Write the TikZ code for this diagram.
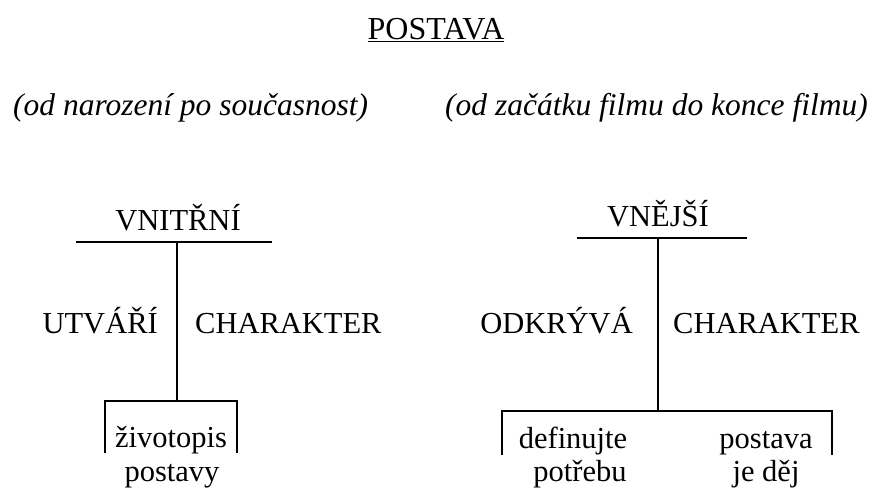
\documentclass[tikz,border=0pt]{standalone}
\usepackage{fontspec}
\setmainfont{Liberation Serif}
\usetikzlibrary{positioning}
\tikzstyle{word} = [inner sep=0pt, anchor=base, font=\fontsize{30.5}{36}\selectfont]
\tikzstyle{subtitle} = [inner sep=0pt, anchor=base west, font=\fontsize{31.5}{36}\selectfont\itshape]
\tikzstyle{bar} = [line width=1.5pt]

\begin{document}
\begin{tikzpicture}[x=1pt, y=-1pt]
\useasboundingbox (0,0) rectangle (877,488);

% Nodes
\node (title) [word, font=\fontsize{32}{36}\selectfont] at (436,39) {\underline{POSTAVA}};
\node (sincebirth) [subtitle] at (13,115) {(od narození po současnost)};
\node (sincefilm) [subtitle] at (445,115) {(od začátku filmu do konce filmu)};

\node (inner) [word] at (178,230) {VNITŘNÍ};
\node (forms) [word, anchor=base east] at (158,333) {UTVÁŘÍ};
\node (charA) [word, anchor=base west] at (195,333) {CHARAKTER};
\node (bioA) [word] at (171,447) {životopis};
\node (bioB) [word] at (172,481) {postavy};

\node (outer) [word] at (658,226) {VNĚJŠÍ};
\node (reveals) [word, anchor=base east] at (633,333) {ODKRÝVÁ};
\node (charB) [word, anchor=base west] at (673,333) {CHARAKTER};
\node (needA) [word] at (573,448) {definujte};
\node (needB) [word] at (580,481) {potřebu};
\node (actA) [word] at (766,448) {postava};
\node (actB) [word] at (766,481) {je děj};

% Coordinates
\coordinate (innerL) at (76,242);
\coordinate (innerR) at (272,242);
\coordinate (innerTop) at (177,242);
\coordinate (innerFork) at (177,401);
\coordinate (innerFL) at (105,453);
\coordinate (innerFR) at (237,453);

\coordinate (outerL) at (577,238);
\coordinate (outerR) at (747,238);
\coordinate (outerTop) at (658,238);
\coordinate (outerFork) at (658,411);
\coordinate (outerFL) at (502,455);
\coordinate (outerFR) at (832,455);

% Lines
\draw [bar] (innerL) -- (innerR);
\draw [bar] (innerTop) -- (innerFork);
\draw [bar] (innerFL) |- (innerFork) -| (innerFR);

\draw [bar] (outerL) -- (outerR);
\draw [bar] (outerTop) -- (outerFork);
\draw [bar] (outerFL) |- (outerFork) -| (outerFR);

\end{tikzpicture}
\end{document}
